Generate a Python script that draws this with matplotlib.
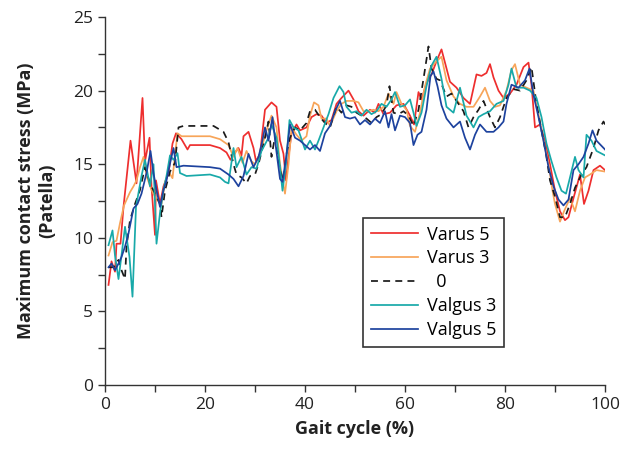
import matplotlib
matplotlib.use('Agg')

import matplotlib.pyplot as plt
from matplotlib.ticker import MultipleLocator

plt.rcParams['font.family'] = ['Open Sans', 'DejaVu Sans']

# Varus 5
x_varus5 = [0.7, 1.3, 2, 2.3, 3.1, 3.7, 5.1, 6.3, 7.5, 8, 8.9, 9.3, 10, 10.2, 11, 11.7, 12.7, 13.5, 14.2, 15.3,
            16.5, 17, 21, 23, 24.3, 25.1, 26, 26.7, 27.3, 27.7, 28.7, 29.7, 30.2, 31, 32, 33.3, 34.3, 35, 35.7, 36.2,
            36.7, 37.3, 38.3, 39, 40.3, 41.3, 42.3, 43.3, 44.3, 45.3, 46.3, 47.3, 48.7, 49.7, 50.7, 51.7, 53, 54, 54.7, 55.7,
            57, 58.3, 59.7, 61, 61.8, 62.7, 63.3, 64.3, 65.3, 66.3, 67.3, 68, 69, 70.3, 71.7, 73, 74.3, 75.3, 76.3, 77,
            77.7, 78.7, 79.7, 81, 82.3, 83.7, 84.7, 85.3, 86, 87, 88, 89, 90, 91, 92, 92.7, 93.7, 95, 95.8, 96.7,
            97.7, 99, 100]
y_varus5 = [6.8, 8.4, 7.7, 9.6, 9.6, 12.1, 16.6, 13.7, 19.5, 15.2, 16.8, 13.5, 10.2, 13.9, 12.3, 13.5, 14.4, 16.4, 17.1, 16.7,
            16.0, 16.3, 16.3, 16.1, 15.8, 15.3, 15.8, 16.1, 15.6, 16.9, 17.2, 16.1, 15.2, 15.7, 18.7, 19.2, 18.9, 16.6, 15.7, 13.9,
            15.5, 17.1, 17.7, 17.3, 17.5, 18.2, 18.4, 18.3, 17.8, 18.0, 19.1, 19.5, 20.0, 19.4, 18.6, 18.3, 18.7, 18.5, 19.1, 18.4,
            18.5, 19.0, 19.1, 18.3, 17.7, 19.9, 19.4, 20.5, 21.1, 22.0, 22.8, 21.9, 20.6, 20.2, 19.5, 19.1, 21.1, 21.0, 21.2, 21.8,
            20.9, 20.0, 19.5, 19.8, 20.4, 21.6, 21.9, 20.4, 17.5, 17.7, 16.6, 15.0, 13.2, 11.8, 11.2, 11.4, 12.7, 14.3, 12.3, 13.2,
            14.6, 14.9, 14.6]

# Varus 3
x_varus3 = [0.7, 1.5, 2.3, 3, 3.8, 5, 5.7, 6.3, 7, 7.7, 8.3, 9.3, 10.3, 11.3, 12, 12.7, 13.5, 14, 14.5, 15.3,
            21, 23, 24.7, 25.7, 26.5, 27.5, 28.3, 29.3, 30, 31, 32.3, 33.3, 34.3, 35, 36, 36.7, 37.3, 38.3, 39.3, 40.3,
            41, 41.8, 42.7, 43.3, 44.3, 45, 46.3, 47.3, 48.3, 49.7, 50.7, 51.7, 52.7, 53.7, 54.7, 55.7, 56.7, 57.7, 58.3, 59.3,
            60.3, 61, 62, 63, 64, 65, 66.3, 67.3, 68.3, 69.7, 71, 72.3, 73.7, 75, 76, 77, 78, 79, 80.3, 81.3,
            82, 83, 84.3, 85.7, 86.7, 87.7, 88.7, 89.5, 90, 91, 91.8, 93, 94, 95, 96, 97, 98.3, 100]
y_varus3 = [8.8, 9.7, 9.8, 11.0, 12.2, 13.1, 13.5, 13.9, 14.8, 15.5, 14.2, 13.25, 12.6, 12.3, 13.7, 14.5, 14.05, 15.6, 17.1, 16.9,
            16.9, 16.7, 16.3, 15.5, 16.1, 15.1, 15.9, 15.2, 15.0, 15.7, 17.3, 18.3, 17.5, 15.0, 13.0, 15.0, 17.5, 17.0, 16.6, 16.9,
            18.3, 19.2, 19.0, 18.1, 18.1, 17.6, 18.6, 19.1, 19.3, 19.3, 19.2, 18.6, 18.6, 18.7, 18.6, 18.9, 19.8, 19.1, 19.9, 19.1,
            18.7, 17.6, 17.2, 18.5, 20.3, 21.5, 22.0, 22.3, 20.7, 19.6, 19.1, 18.9, 18.9, 19.6, 20.2, 19.3, 18.9, 19.0, 20.0, 21.4,
            21.8, 20.4, 20.2, 20.0, 18.4, 16.6, 15.0, 13.2, 12.3, 11.1, 11.8, 12.7, 11.8, 13.2, 14.1, 14.3, 14.6, 14.5]

# 0 (neutral)
x_neutral = [0.7, 1.7, 2.7, 3.3, 4, 4.3, 5, 6, 7, 8, 9, 10, 11, 11.3, 12, 13, 14, 14.7, 15.7, 21.7,
             23.7, 24.7, 25.7, 26.3, 27.3, 28.3, 29, 30, 30.7, 32, 32.7, 33.3, 34, 35, 35.7, 36.3, 37, 38, 39, 40.3,
             41, 42, 43, 44, 45, 46.3, 47.3, 48.3, 49.3, 50.3, 51.3, 52.3, 53.3, 54.3, 55.3, 56.3, 56.9, 57.7, 58.7, 59.7,
             60.7, 61.7, 62.7, 63.7, 64.7, 65.3, 66.3, 67, 68.3, 69.3, 70.7, 71.7, 72.7, 73.7, 74.7, 75.7, 77, 78, 79, 80.3,
             81.7, 83, 84.3, 85.3, 86.3, 87.3, 88.2, 89, 90, 91, 92, 93, 94, 95.3, 96.3, 97.7, 98.7, 99.7, 100]
y_neutral = [8.0, 8.0, 8.5, 7.8, 7.2, 9.4, 11.2, 12.3, 13.25, 14.8, 13.7, 13.0, 12.3, 11.4, 13.2, 14.5, 15.1, 17.5, 17.6, 17.6,
             17.2, 16.5, 15.0, 14.3, 14.1, 13.7, 14.2, 14.3, 15.0, 16.8, 17.9, 15.5, 16.9, 14.6, 13.9, 15.7, 16.8, 17.5, 17.3, 17.8,
             18.6, 18.7, 18.2, 17.8, 17.5, 18.9, 18.5, 19.0, 18.9, 18.5, 18.3, 18.1, 17.8, 18.2, 18.4, 19.0, 20.3, 18.5, 18.4, 18.6,
             18.3, 17.6, 18.7, 20.8, 23.0, 21.5, 20.8, 20.7, 19.6, 19.8, 19.1, 18.6, 17.5, 18.2, 18.7, 19.3, 18.2, 17.5, 18.2, 19.5,
             20.1, 20.0, 20.7, 21.6, 19.1, 17.3, 15.7, 13.9, 12.8, 11.4, 11.4, 12.3, 13.4, 14.3, 14.8, 16.1, 17.3, 17.9, 17.7]

# Valgus 3
x_valgus3 = [0.7, 1.5, 2, 2.7, 3.3, 4, 4.9, 5.5, 6.2, 7.3, 8, 9, 9.7, 10.3, 11, 11.7, 12.3, 13, 13.7, 14.5,
             15, 16.3, 21, 23, 24, 24.7, 25.7, 26.3, 27.3, 28.3, 29.3, 30.3, 31.3, 32.7, 33.3, 34.3, 35, 35.5, 36.2, 36.9,
             37.7, 38.7, 40, 41, 42, 42.7, 43.7, 44.7, 45.7, 46.9, 47.7, 48.3, 49.3, 50.3, 51.3, 52.3, 53.3, 54.3, 55.3, 56.3,
             57.3, 58, 59, 60, 61, 61.7, 62.3, 63.3, 64.3, 65.3, 66.3, 67.3, 68.3, 69.7, 71, 72.3, 73.7, 74.7, 75.7, 77,
             78.3, 79.7, 80.7, 81.3, 82.3, 83.7, 85, 86.3, 87.3, 88.3, 89.3, 90.3, 91.3, 92.2, 93, 94, 94.7, 95.7, 96.3, 97.3,
             98.3, 100]
y_valgus3 = [9.5, 10.5, 8.8, 7.2, 8.8, 10.75, 8.7, 6.0, 12.1, 14.2, 15.3, 13.5, 15.0, 9.6, 11.7, 13.25, 14.2, 15.6, 15.3, 15.75,
             14.4, 14.2, 14.3, 14.1, 13.8, 13.7, 16.1, 14.8, 15.5, 14.3, 14.8, 14.7, 15.9, 16.8, 17.7, 16.8, 14.8, 13.2, 15.0, 18.0,
             17.5, 17.3, 16.0, 16.6, 16.0, 16.6, 17.5, 18.4, 19.5, 20.3, 19.9, 18.9, 18.5, 18.6, 18.3, 18.7, 18.4, 18.6, 19.1, 18.9,
             19.4, 19.9, 18.9, 19.0, 19.4, 18.5, 17.6, 18.5, 20.3, 21.7, 22.3, 20.8, 18.9, 18.5, 20.2, 18.3, 17.5, 18.2, 18.4, 18.6,
             19.1, 19.3, 20.4, 21.5, 20.2, 20.2, 20.0, 19.5, 18.2, 16.4, 15.2, 14.1, 13.2, 13.0, 14.1, 15.5, 14.6, 14.1, 17.0, 16.6,
             15.9, 15.6]

# Valgus 5
x_valgus5 = [0.7, 1.3, 2, 2.7, 3.3, 4, 4.7, 5.7, 6.5, 7.3, 8.3, 9.1, 9.7, 10.3, 11, 11.7, 12.3, 13.1, 13.7, 14.3,
             15.7, 21, 23, 24.7, 25.7, 26.7, 27.7, 28.7, 29.7, 30.7, 31.3, 32, 32.7, 33.5, 34.2, 35, 35.5, 36.2, 37, 38,
             39, 40, 41, 42, 43, 44, 45, 46, 47, 48, 49, 50, 51, 52, 53, 54, 55, 56, 56.7, 57.3,
             58, 59, 60, 61, 61.7, 62.5, 63.3, 64.3, 65.1, 65.7, 66.5, 67.3, 68.3, 69.7, 71, 72, 73, 74, 75, 76.3,
             77.7, 78.7, 79.7, 80.3, 81.3, 82.7, 84, 84.9, 85.7, 86.7, 87.7, 88.7, 89.7, 90.7, 91.7, 92.7, 93.7, 94.7, 95.7, 96.7,
             97.5, 98.3, 100]
y_valgus5 = [8.0, 8.25, 7.8, 8.25, 8.7, 9.4, 10.3, 12.0, 12.3, 13.0, 14.4, 15.9, 14.4, 13.25, 12.1, 13.25, 13.9, 15.2, 16.1, 14.8,
             14.9, 14.8, 14.7, 14.3, 14.0, 13.5, 14.2, 15.7, 14.8, 15.5, 16.3, 17.5, 16.6, 18.2, 16.1, 14.0, 13.8, 15.4, 17.7, 16.8,
             16.6, 16.3, 16.0, 16.3, 15.9, 17.1, 17.6, 18.6, 19.3, 18.2, 18.1, 18.2, 17.7, 18.0, 17.7, 18.1, 17.8, 18.6, 17.5, 18.4,
             17.3, 18.3, 18.2, 17.8, 16.3, 17.0, 17.2, 18.7, 21.0, 21.3, 20.3, 19.0, 18.1, 17.5, 17.9, 16.8, 16.0, 17.0, 17.7, 17.2,
             17.2, 17.5, 17.9, 19.1, 20.4, 20.2, 20.7, 21.5, 19.7, 18.2, 16.6, 14.8, 13.5, 12.6, 12.2, 12.6, 14.6, 15.0, 15.5, 16.4,
             17.3, 16.6, 16.0]

fig = plt.figure(figsize=(6.25, 4.5), dpi=100)
ax = fig.add_axes([0.168, 0.1444, 0.8, 0.8178])

lw = 1.25
ax.plot(x_varus5, y_varus5, color='#ee2e2e', lw=lw, label='Varus 5')
ax.plot(x_varus3, y_varus3, color='#f7a55a', lw=lw, label='Varus 3')
ax.plot(x_neutral, y_neutral, color='#1a1a1a', lw=lw, dashes=(4, 3), label='  0')
ax.plot(x_valgus3, y_valgus3, color='#18a9a9', lw=lw, label='Valgus 3')
ax.plot(x_valgus5, y_valgus5, color='#1d429e', lw=lw, label='Valgus 5')

ax.set_xlim(0, 100)
ax.set_ylim(0, 25)
ax.xaxis.set_major_locator(MultipleLocator(20))
ax.xaxis.set_minor_locator(MultipleLocator(10))
ax.yaxis.set_major_locator(MultipleLocator(5))
ax.yaxis.set_minor_locator(MultipleLocator(2.5))
ax.tick_params(which='both', direction='out', length=5, width=1, color='#333333', labelsize=12.5, labelcolor='#222222')
for s in ['top', 'right']:
    ax.spines[s].set_visible(False)
for s in ['left', 'bottom']:
    ax.spines[s].set_color('#333333')
    ax.spines[s].set_linewidth(1)

ax.set_xlabel('Gait cycle (%)', fontsize=13, fontweight='bold', color='#222222', labelpad=5)
ax.set_ylabel('Maximum contact stress (MPa)\n(Patella)', fontsize=13, fontweight='bold',
              color='#222222', labelpad=12, linespacing=1.25)

leg = ax.legend(loc='upper left', bbox_to_anchor=(0.516, 0.454), borderaxespad=0, fontsize=13,
                frameon=True, fancybox=False, edgecolor='black', handlelength=2.65, handletextpad=0.45,
                labelspacing=0.33, borderpad=0.42)
leg.get_frame().set_linewidth(1.2)

fig.savefig('out.png', dpi=100)
